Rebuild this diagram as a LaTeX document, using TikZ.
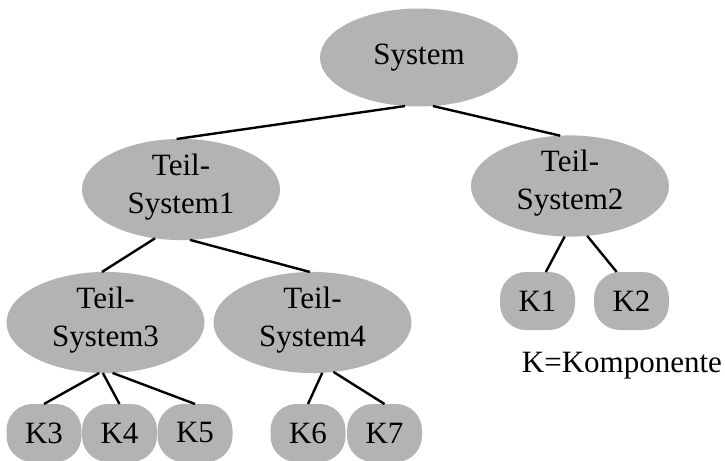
\documentclass[tikz,border=0pt]{standalone}
\usepackage{fontspec}
\setmainfont{Liberation Serif}
\usetikzlibrary{shapes.geometric}
\definecolor{nodegray}{RGB}{179,179,179}
\begin{document}
\begin{tikzpicture}[x=0.5pt,y=-0.5pt,
  every node/.style={font=\fontsize{15.5}{19}\selectfont},
  sysnode/.style={ellipse, fill=nodegray, inner sep=0pt, outer sep=0pt,
    minimum width=99pt, minimum height=49pt, align=center},
  twoline/.style={sysnode, text depth=6pt},
  comp/.style={rectangle, rounded corners=13pt, fill=nodegray, inner sep=0pt,
    outer sep=0pt, minimum width=37.5pt, minimum height=29pt},
  link/.style={line width=1.2pt}]
\useasboundingbox (0,0) rectangle (725,461);

% system hierarchy
\node[sysnode] (sys) at (419,57.5) {System};
\node[twoline] (ts1) at (181,189.5) {Teil-\\System1};
\node[twoline] (ts2) at (570,186) {Teil-\\System2};
\node[twoline, minimum height=47.5pt] (ts3) at (105.5,322.5) {Teil-\\System3};
\node[twoline, minimum height=47.5pt] (ts4) at (312.5,322.5) {Teil-\\System4};

% components
\node[comp] (k1) at (537.5,301) {K1};
\node[comp] (k2) at (631.5,301) {K2};
\node[comp] (k3) at (44,433) {K3};
\node[comp] (k4) at (119.5,433) {K4};
\node[comp] (k5) at (195,433) {K5};
\node[comp] (k6) at (308,433) {K6};
\node[comp] (k7) at (384.5,433) {K7};

\node[anchor=base] (legend) at (622,372) {K=Komponente};

% connections
\draw[link] (sys.254) -- (ts1.95);
\draw[link] (sys.286) -- (ts2.101);
\draw[link] (ts1.242) -- (ts3.94);
\draw[link] (ts1.280) -- (ts4.93);
\draw[link] (ts2.264) -- (k1.74);
\draw[link] (ts2.289) -- (k2.117);
\draw[link] (ts3.263) -- (k3.north);
\draw[link] (ts3.267) -- (k4.north);
\draw[link] (ts3.278) -- (k5.north);
\draw[link] (ts4.281) -- (k6.north);
\draw[link] (ts4.293) -- (k7.north);
\end{tikzpicture}
\end{document}
